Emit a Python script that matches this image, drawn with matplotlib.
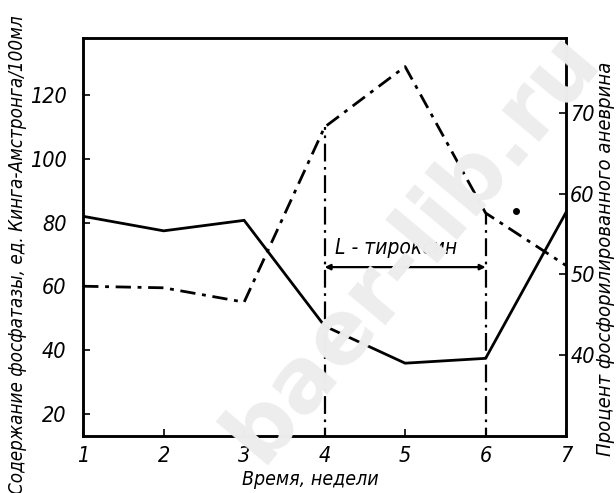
import matplotlib
matplotlib.use('Agg')
import matplotlib.pyplot as plt
from matplotlib import font_manager
from matplotlib.font_manager import FontProperties

# Weeks of the experiment
weeks = [1, 2, 3, 4, 5, 6, 7]

# Phosphatase, King-Armstrong units per 100 ml (left axis, dash-dot)
phosphatase = [60, 59.5, 55, 110, 129, 83, 66.5]

# Percent of phosphorylated aneurin (right axis, solid)
aneurin_pct = [57.2, 55.4, 56.7, 43.6, 39.0, 39.6, 57.7]

# Thyroxine period and the extra single point
thyroxine_start, thyroxine_end = 4, 6
thyroxine_level = 66
extra_week, extra_value = 6.38, 83.7

left_ticks = [20, 40, 60, 80, 100, 120]
right_ticks = [40, 50, 60, 70]


def narrow_italic():
    # look for a condensed / narrow italic face of normal weight
    for f in font_manager.fontManager.ttflist:
        narrow = ('Narrow' in f.name or 'ondensed' in f.fname
                  or f.stretch in ('condensed', 'semi-condensed', 'extra-condensed'))
        weight_ok = f.weight in (400, 'normal', 'regular', 'book')
        if narrow and weight_ok and f.style in ('italic', 'oblique'):
            return f.fname
    return None


path = narrow_italic()
if path:
    def fp(size):
        return FontProperties(fname=path, size=size)
    scale = 1.0
else:
    def fp(size):
        return FontProperties(family='DejaVu Sans', style='italic', size=size)
    scale = 0.8

fig = plt.figure(figsize=(6.16, 4.93), dpi=100)
ax = fig.add_axes([0.135, 0.116, 0.784, 0.807])
ax2 = ax.twinx()

# watermark behind everything
fig.text(0.67, 0.50, 'baer-lib.ru', rotation=50, fontsize=64, fontweight='bold',
         color='#ededed', ha='center', va='center', family='DejaVu Sans', zorder=0)
ax.set_facecolor('none')
ax2.set_facecolor('none')

dashdot = [5.5, 2.4, 1.4, 2.4]

line1, = ax.plot(weeks, phosphatase, color='black', lw=2.0)
line1.set_dashes(dashdot)
ax2.plot(weeks, aneurin_pct, color='black', lw=2.0, solid_joinstyle='miter')

# vertical markers for the thyroxine course
for w in (thyroxine_start, thyroxine_end):
    v, = ax.plot([w, w], [0, phosphatase[weeks.index(w)]], color='black', lw=1.6)
    v.set_dashes([8, 2.5, 1.2, 2.5])

ax.annotate('', xy=(thyroxine_end, thyroxine_level), xytext=(thyroxine_start, thyroxine_level),
            arrowprops=dict(arrowstyle='<|-|>', color='black', lw=1.6,
                            mutation_scale=8, shrinkA=0, shrinkB=0))
ax.text(4.89, thyroxine_level + 6, 'L - тироксин', ha='center', va='center',
        fontproperties=fp(15 * scale))

ax.plot([extra_week], [extra_value], 'o', color='black', ms=4)

ax.set_xlim(1, 7)
ax.set_ylim(13, 138)
ax2.set_ylim(30, 79.3)

ax.set_xticks(weeks)
ax.set_yticks(left_ticks)
ax2.set_yticks(right_ticks)

ax.tick_params(axis='both', direction='in', length=5, width=1.2)
ax.tick_params(axis='y', pad=12)
ax.tick_params(axis='x', pad=7)
ax2.tick_params(axis='y', direction='in', length=5, width=1.2, pad=3)

for lab in ax.get_xticklabels() + ax.get_yticklabels() + ax2.get_yticklabels():
    lab.set_fontproperties(fp(15.5 * scale))

for a in (ax, ax2):
    for s in a.spines.values():
        s.set_linewidth(1.8)

ax.set_xlabel('Время, недели', fontproperties=fp(14 * scale))
ax.xaxis.set_label_coords(0.47, -0.085)

# axis titles placed by hand along the figure edges
fig.text(0.029, 0.483, 'Содержание фосфатазы, ед. Кинга-Амстронга/100мл',
         rotation=90, ha='center', va='center', fontproperties=fp(13.5 * scale))
fig.text(0.983, 0.475, 'Процент фосфорилированного аневрина',
         rotation=90, ha='center', va='center', fontproperties=fp(14.5 * scale))

fig.savefig('out.png', dpi=100)
